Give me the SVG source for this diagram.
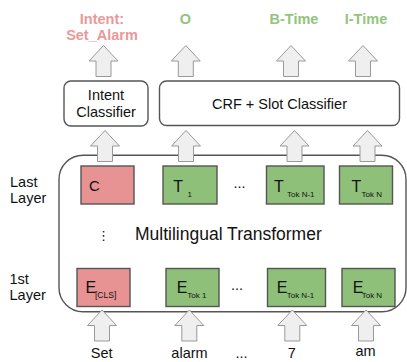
<svg xmlns="http://www.w3.org/2000/svg" xmlns:xlink="http://www.w3.org/1999/xlink" width="407" height="362" viewBox="0 0 407 362">
<style>
text{font-family:"Liberation Sans",Arial,sans-serif;fill:#111}
.lbl{font-size:14.5px}
.big{font-size:16px}
.ctr{text-anchor:middle}
.outR{font-size:14.5px;font-weight:bold;fill:#ea9999;text-anchor:middle}
.outG{font-size:14.5px;font-weight:bold;fill:#93c47d;text-anchor:middle}
.cls{fill:#fff;stroke:#555;stroke-width:1.4}
.red{fill:#e89393;stroke:#555;stroke-width:1.4}
.grn{fill:#8fc07a;stroke:#555;stroke-width:1.4}
.sub{font-size:8px}
.arr{fill:#efefef;stroke:#999;stroke-width:1}
</style>
<defs>
<path id="up" d="M0,0 L14.5,15.5 L7.5,15.5 L7.5,31 L-7.5,31 L-7.5,15.5 L-14.5,15.5 Z"/>
</defs>

<g id="outputs">
<text class="outR" x="102" y="23.5">Intent:</text>
<text class="outR" x="102" y="40">Set_Alarm</text>
<text class="outG" x="185.5" y="23.5">O</text>
<text class="outG" x="294" y="23.5">B-Time</text>
<text class="outG" x="366" y="23.5">I-Time</text>
</g>

<g id="intent-classifier">
<rect class="cls" x="64" y="81" width="84" height="45" rx="7"/>
<text class="lbl ctr" x="106" y="100">Intent</text>
<text class="lbl ctr" x="106" y="117">Classifier</text>
</g>

<g id="crf-slot-classifier">
<rect class="cls" x="159.5" y="81" width="240" height="44.5" rx="7"/>
<text class="lbl ctr" x="279.5" y="108.5">CRF + Slot Classifier</text>
</g>

<g id="layer-labels">
<text class="lbl" x="10" y="187">Last</text>
<text class="lbl" x="10" y="203">Layer</text>
<text class="lbl" x="9.5" y="284">1st</text>
<text class="lbl" x="9.5" y="300">Layer</text>
</g>

<g id="transformer">
<rect x="59" y="155.3" width="347" height="156.5" rx="24" fill="none" stroke="#555" stroke-width="1.4"/>
<text x="135" y="240" style="font-size:17.5px">Multilingual Transformer</text>
<text x="103.5" y="240" style="font-family:'DejaVu Sans',sans-serif;font-size:13px" class="ctr">⋮</text>
</g>

<g id="C">
<rect class="red" x="81" y="166" width="53" height="38"/>
<text x="89" y="191" style="font-size:15px">C</text>
</g>
<g id="T1">
<rect class="grn" x="163" y="166" width="54" height="38"/>
<text class="big" x="173.3" y="191.5">T<tspan class="sub" x="187.5" y="196.5">1</tspan></text>
</g>
<text id="dots-last" class="lbl ctr" x="239.5" y="188">...</text>
<g id="TtokN-1">
<rect class="grn" x="266.5" y="166" width="57.5" height="38"/>
<text class="big" x="274" y="191.5">T<tspan class="sub" x="287" y="196.5">Tok N-1</tspan></text>
</g>
<g id="TtokN">
<rect class="grn" x="339.5" y="166" width="53" height="38"/>
<text class="big" x="351.5" y="191.5">T<tspan class="sub" x="361.5" y="196.5">Tok N</tspan></text>
</g>

<g id="Ecls">
<rect class="red" x="77" y="268.5" width="53" height="38"/>
<text class="big" x="85.5" y="292.7">E<tspan class="sub" style="font-size:8.5px" x="95" y="297.7">[CLS]</tspan></text>
</g>
<g id="Etok1">
<rect class="grn" x="166" y="268.5" width="53" height="38"/>
<text class="big" x="176.8" y="292.7">E<tspan class="sub" x="187.3" y="297.7">Tok 1</tspan></text>
</g>
<text id="dots-first" class="lbl ctr" x="237" y="290">...</text>
<g id="EtokN-1">
<rect class="grn" x="267.5" y="268.5" width="58" height="38"/>
<text class="big" x="276.8" y="292.7">E<tspan class="sub" x="286.7" y="297.7">Tok N-1</tspan></text>
</g>
<g id="EtokN">
<rect class="grn" x="342" y="268.5" width="53" height="38"/>
<text class="big" x="352.8" y="292.7">E<tspan class="sub" x="361.7" y="297.7">Tok N</tspan></text>
</g>

<g id="inputs">
<text class="lbl ctr" x="101.7" y="358">Set</text>
<text class="lbl ctr" x="189.5" y="358">alarm</text>
<text class="lbl ctr" x="241.5" y="358">...</text>
<text class="lbl ctr" x="291.7" y="358">7</text>
<text class="lbl ctr" x="365.5" y="356">am</text>
</g>

<g id="connectors">
<use xlink:href="#up" class="arr" x="103.5" y="45.5"/>
<use xlink:href="#up" class="arr" x="185.8" y="45.5"/>
<use xlink:href="#up" class="arr" x="291" y="45.5"/>
<use xlink:href="#up" class="arr" x="363" y="45.5"/>
<use xlink:href="#up" class="arr" x="105" y="130.5"/>
<use xlink:href="#up" class="arr" x="186" y="130.5"/>
<use xlink:href="#up" class="arr" x="294.5" y="130.5"/>
<use xlink:href="#up" class="arr" x="367.5" y="130.5"/>
<use xlink:href="#up" class="arr" x="102" y="310"/>
<use xlink:href="#up" class="arr" x="189.3" y="310"/>
<use xlink:href="#up" class="arr" x="292.3" y="310"/>
<use xlink:href="#up" class="arr" x="366" y="310"/>
</g>
</svg>
